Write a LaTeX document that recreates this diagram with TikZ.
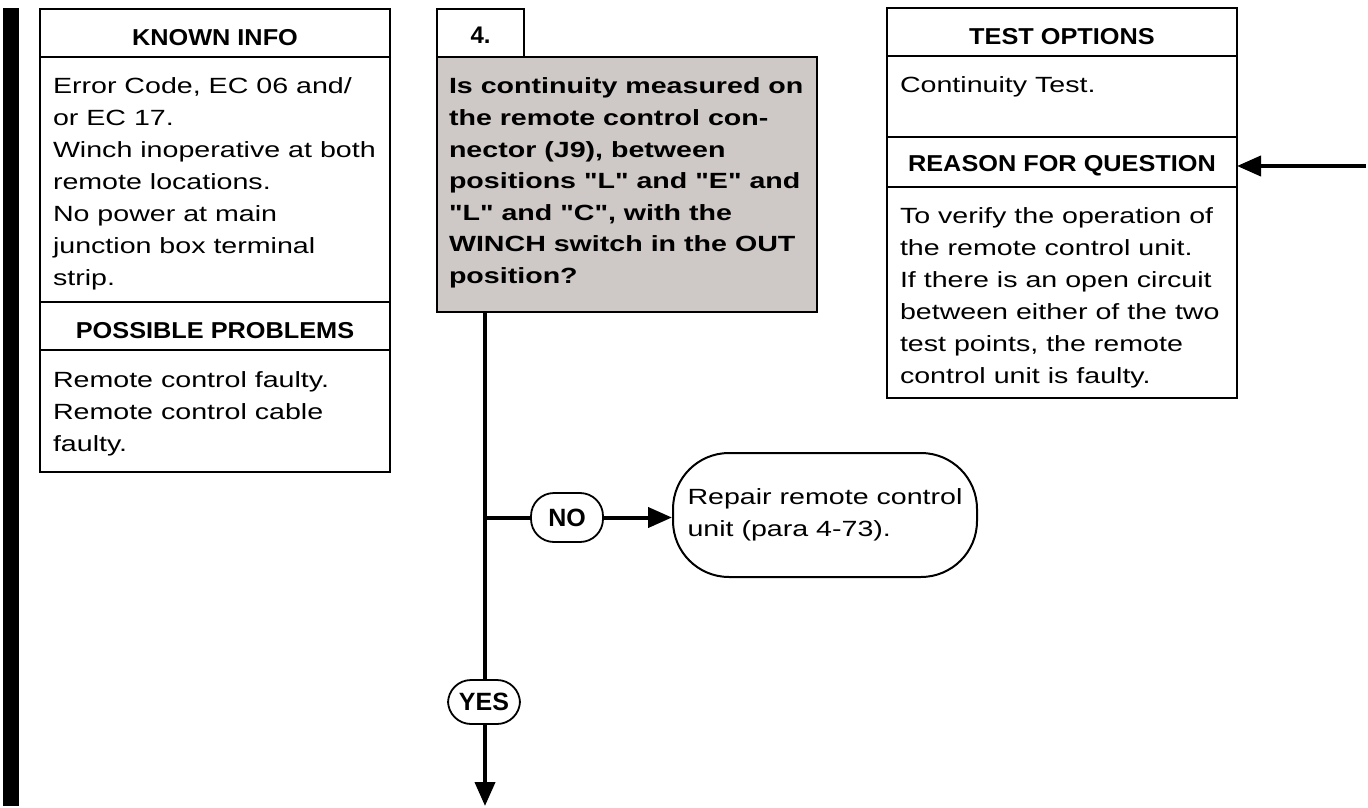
\documentclass[tikz,border=0pt]{standalone}
\usepackage{fontspec}
\setmainfont{Liberation Sans}
\newfontfamily\bodyfont{Liberation Sans}[FakeStretch=1.3]
\newfontfamily\headfont{Liberation Sans}[FakeStretch=1.1]
\usepackage{xcolor}
\usetikzlibrary{arrows.meta,positioning}
\definecolor{qgray}{RGB}{206,200,199}
\newcommand{\celltext}[3]{\parbox[t][#2][t]{#1}{\rule{0pt}{18.5pt}#3}}

\begin{document}
\begin{tikzpicture}[
    x=0.5pt, y=0.5pt,
    head/.style={draw, line width=1pt, outer sep=0pt, inner sep=0pt, minimum width=175pt, minimum height=24pt,
      text height=12.5pt, text depth=0pt, font=\headfont\fontsize{11.5pt}{13pt}\selectfont\bfseries},
    cell/.style={draw, line width=1pt, outer sep=0pt, inner xsep=6.5pt, inner ysep=0pt,
      font=\bodyfont\fontsize{11pt}{16pt}\selectfont},
    qbox/.style={draw, line width=1.3pt, fill=qgray, outer sep=0pt, inner xsep=6pt, inner ysep=0pt,
      font=\bodyfont\fontsize{11pt}{15.8pt}\selectfont\bfseries},
    pill/.style={draw, line width=0.9pt, rounded corners=11.5pt, minimum width=36pt, minimum height=24.5pt,
      inner sep=0pt, fill=white, font=\fontsize{12.5pt}{14pt}\selectfont\bfseries},
    endbox/.style={draw, line width=1pt, rounded corners=28pt, minimum width=152pt, minimum height=62pt,
      align=left, font=\bodyfont\fontsize{11pt}{16pt}\selectfont},
    flow/.style={line width=2pt},
    arr/.style={-{Triangle[length=12pt,width=10pt]}, line width=2pt}
  ]
  \useasboundingbox (0,0) rectangle (1368,-807);
  \fill (3,-8) rectangle (19,-806);

  % Known info / possible problems (left column)
  \node[head, anchor=north west] (kihead) at (40,-9) {KNOWN INFO};
  \node[cell, below=0pt of kihead] (kibody) {\celltext{162pt}{122.5pt}{Error Code, EC 06 and/\\
    or EC 17.\\ Winch inoperative at both\\ remote locations.\\ No power at main\\
    junction box terminal\\ strip.}};
  \node[head, below=0pt of kibody] (pphead) {POSSIBLE PROBLEMS};
  \node[cell, below=0pt of pphead] (ppbody) {\celltext{162pt}{61pt}{Remote control faulty.\\
    Remote control cable\\ faulty.}};

  % Step 4 question (middle column)
  \node[head, anchor=north west, minimum width=43.5pt, text height=11pt,
    font=\fontsize{12pt}{14pt}\selectfont\bfseries] (stepnum) at (437,-9) {4.};
  \node[qbox, anchor=north west] (question) at (stepnum.south west) {\celltext{178pt}{127.5pt}{Is continuity measured on\\
    the remote control con-\\ nector (J9), between\\ positions "L" and "E" and\\
    "L" and "C", with the\\ WINCH switch in the OUT\\ position?}};

  % Test options / reason for question (right column)
  \node[head, anchor=north west] (tohead) at (887,-8) {TEST OPTIONS};
  \node[cell, below=0pt of tohead] (tobody) {\celltext{162pt}{40.5pt}{Continuity Test.}};
  \node[head, below=0pt of tobody, minimum height=25pt, text height=10pt] (rqhead) {REASON FOR QUESTION};
  \node[cell, below=0pt of rqhead] (rqbody) {\celltext{162pt}{105.5pt}{To verify the operation of\\
    the remote control unit.\\ If there is an open circuit\\ between either of the two\\
    test points, the remote\\ control unit is faulty.}};

  % Answers
  \coordinate (split) at (485,-517.5);
  \node[pill] (no) at (567,-517.5) {NO};
  \node[endbox] (repair) at (825,-515) {Repair remote control\\ unit (para 4-73).};
  \node[pill, minimum height=22pt] (yes) at (484,-702) {YES};
  \coordinate (next) at (485,-806);
  \coordinate (incoming) at (1366,-166);

  \draw[flow] (question.south -| split) -- (yes.north -| split);
  \draw[flow] (split) -- (no.west);
  \draw[arr] (no.east) -- (no.east -| repair.west);
  \draw[arr] (yes.south -| next) -- (next);
  \draw[arr] (incoming) -- (incoming -| rqhead.east);
\end{tikzpicture}
\end{document}
